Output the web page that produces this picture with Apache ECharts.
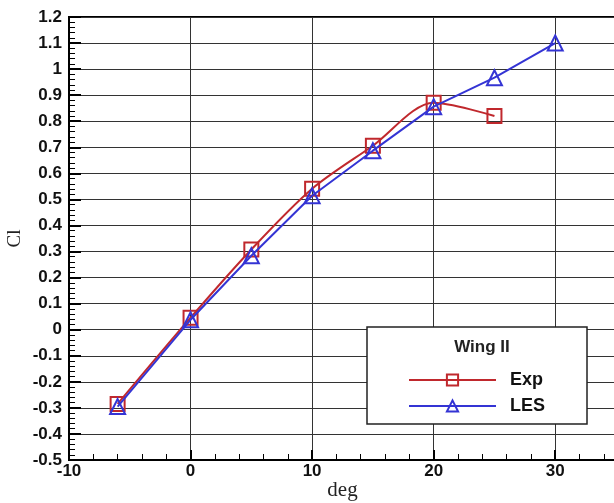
<!DOCTYPE html>
<html>
<head>
<meta charset="utf-8">
<script src="https://cdn.jsdelivr.net/npm/echarts@6/dist/echarts.min.js"></script>
<style>
  html, body { margin: 0; padding: 0; background: #fff; }
  #chart { width: 614px; height: 503px; }
</style>
</head>
<body>
<div id="chart"></div>
<script>
// Lift coefficient versus angle of attack, Wing II
const angles = [-6, 0, 5, 10, 15, 20, 25, 30];
const expCl = [-0.285, 0.046, 0.308, 0.541, 0.706, 0.871, 0.82];
const lesCl = [-0.295, 0.038, 0.284, 0.514, 0.687, 0.856, 0.967, 1.1];
const legendTitle = 'Wing II';
const seriesNames = ['Exp', 'LES'];
const xTitle = 'deg';
const yTitle = 'Cl';

const pairs = (vals) => vals.map((v, i) => [angles[i], v]);

const chart = echarts.init(document.getElementById('chart'));
const labelFont = { fontFamily: '"Liberation Sans", Arial, sans-serif', fontWeight: 'bold', fontSize: 17, color: '#111' };
const serifFont = '"Liberation Serif", "Times New Roman", serif';

chart.setOption({
  animation: false,
  backgroundColor: '#fff',
  grid: {
    left: 69, top: 17, right: -2, bottom: 43,
    outerBoundsMode: 'none', containLabel: false,
    show: true, borderColor: '#000', borderWidth: 2, backgroundColor: 'transparent'
  },
  xAxis: {
    type: 'value', min: -10, max: 35, interval: 10,
    name: xTitle, nameLocation: 'middle', nameGap: 20, nameMoveOverlap: false,
    nameTextStyle: { fontFamily: serifFont, fontSize: 21, color: '#222' },
    axisLine: { show: true, onZero: false, lineStyle: { color: '#000', width: 2 } },
    axisTick: { show: true, inside: true, length: 10, lineStyle: { color: '#000', width: 2 } },
    minorTick: { show: true, splitNumber: 5, length: 6, lineStyle: { color: '#000', width: 1 } },
    splitLine: { show: true, lineStyle: { color: '#333', width: 1 } },
    axisLabel: Object.assign({ margin: 3, showMaxLabel: false }, labelFont)
  },
  yAxis: {
    type: 'value', min: -0.5, max: 1.2, interval: 0.1,
    name: yTitle, nameLocation: 'middle', nameGap: 44, nameRotate: 90, nameMoveOverlap: false,
    nameTextStyle: { fontFamily: serifFont, fontSize: 19, color: '#222' },
    axisLine: { show: true, onZero: false, lineStyle: { color: '#000', width: 2 } },
    axisTick: { show: true, inside: true, length: 12, lineStyle: { color: '#000', width: 2 } },
    minorTick: { show: true, splitNumber: 5, length: 6, lineStyle: { color: '#000', width: 1 } },
    splitLine: { show: true, lineStyle: { color: '#333', width: 1 } },
    axisLabel: Object.assign({
      margin: 7,
      formatter: (v) => String(Math.round(v * 10) / 10)
    }, labelFont)
  },
  legend: {
    orient: 'vertical', left: 367, top: 327,
    padding: [44, 42, 9, 41],
    itemWidth: 87, itemHeight: 14, itemGap: 8,
    backgroundColor: '#fff', borderColor: '#222', borderWidth: 1.5,
    textStyle: { fontFamily: '"Liberation Sans", Arial, sans-serif', fontWeight: 'bold', fontSize: 18, color: '#111', padding: [0, 0, 0, 9] },
    data: seriesNames
  },
  title: {
    text: legendTitle, left: 477, top: 334, textAlign: 'center', z: 10,
    textStyle: { fontFamily: '"Liberation Sans", Arial, sans-serif', fontWeight: 'bold', fontSize: 17, color: '#222' }
  },
  series: [
    {
      name: seriesNames[0], type: 'line', data: pairs(expCl), smooth: 0.3,
      symbol: 'rect', symbolSize: 14,
      lineStyle: { color: '#c0282d', width: 2 },
      itemStyle: { color: 'rgba(255,255,255,0)', borderColor: '#c0282d', borderWidth: 2 },
      z: 3
    },
    {
      name: seriesNames[1], type: 'line', data: pairs(lesCl),
      symbol: 'triangle', symbolSize: 15,
      lineStyle: { color: '#3434d4', width: 2 },
      itemStyle: { color: 'rgba(255,255,255,0)', borderColor: '#3434d4', borderWidth: 2 },
      z: 4
    }
  ]
});
</script>
</body>
</html>
